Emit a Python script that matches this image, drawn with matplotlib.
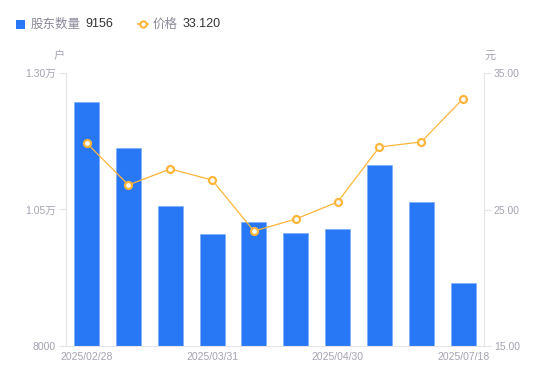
import matplotlib
matplotlib.use("Agg")
import matplotlib.pyplot as plt
from matplotlib.ticker import FixedLocator, FuncFormatter
from matplotlib.lines import Line2D
from matplotlib.patches import Rectangle

plt.rcParams['font.family'] = ['Liberation Sans', 'Noto Sans CJK SC', 'DejaVu Sans']

dates = ['2025/02/28', '', '', '2025/03/31', '', '', '2025/04/30', '', '', '2025/07/18']
holders = [12470, 11630, 10565, 10050, 10270, 10070, 10145, 11315, 10640, 9156]
prices = [29.87, 26.80, 27.97, 27.16, 23.42, 24.30, 25.55, 29.58, 29.95, 33.12]

left_ticks = [8000, 10500, 13000]
left_labels = ['8000', '1.05万', '1.30万']
right_ticks = [15, 25, 35]
right_labels = ['15.00', '25.00', '35.00']

BLUE = '#2878F5'
ORANGE = '#FFB53A'
AXIS = '#E3E3E8'
TICK = '#A3A3B3'

fig = plt.figure(figsize=(5.5, 3.81), dpi=100)
ax = fig.add_axes([65.7/550, 35/381, (484-65.7)/550, (346-73)/381])
ax2 = ax.twinx()

x = list(range(len(holders)))
ax.bar(x, holders, width=0.6, color=BLUE, edgecolor='#7FB0FA', linewidth=0.6, zorder=2)
ax.set_ylim(8000, 13000)
ax.set_xlim(-0.5, len(holders) - 0.5)

ax2.plot(x, prices, color=ORANGE, linewidth=0.9, marker='o', markersize=5,
         markerfacecolor='white', markeredgecolor=ORANGE, markeredgewidth=1.6, zorder=3)
ax2.set_ylim(15, 35)

for a in (ax, ax2):
    for s in a.spines.values():
        s.set_visible(False)

ax.spines['left'].set_visible(True)
ax.spines['left'].set_color(AXIS)
ax.spines['bottom'].set_visible(True)
ax.spines['bottom'].set_color(AXIS)
ax2.spines['right'].set_visible(True)
ax2.spines['right'].set_color(AXIS)

ax.set_yticks(left_ticks)
ax.set_yticklabels(left_labels)
ax2.set_yticks(right_ticks)
ax2.set_yticklabels(right_labels)
ax.tick_params(axis='y', colors=AXIS, labelcolor=TICK, labelsize=7.5, length=5, width=0.8, pad=2)
ax2.tick_params(axis='y', colors=AXIS, labelcolor=TICK, labelsize=7.5, length=5, width=0.8, pad=2)

shown = [i for i, d in enumerate(dates) if d]
ax.set_xticks(shown)
ax.set_xticklabels([dates[i] for i in shown])
ax.tick_params(axis='x', length=0, labelcolor=TICK, labelsize=7.5, pad=4)

ax.set_zorder(ax2.get_zorder() - 1)
ax.patch.set_visible(False)

fig.text(59/550, 1 - 56/381, '户', fontsize=8, color=TICK, ha='center', va='center',
         family=['Noto Sans CJK SC'])
fig.text(490/550, 1 - 56/381, '元', fontsize=8, color=TICK, ha='center', va='center',
         family=['Noto Sans CJK SC'])

# legend
fig.patches.append(Rectangle((16/550, 1 - 29/381), 9/550, 9/381, transform=fig.transFigure,
                             facecolor=BLUE, edgecolor='none'))
fig.text(31/550, 1 - 24/381, '股东数量', fontsize=9, color='#8a8a99', va='center',
         family=['Noto Sans CJK SC'])
fig.text(85/550, 1 - 24/381, '9156', fontsize=9, color='#333333', va='center')
fig.lines.append(Line2D([138/550, 148/550], [1 - 24/381, 1 - 24/381], transform=fig.transFigure,
                        color=ORANGE, linewidth=1.2, marker='o', markevery=[0], markersize=0))
fig.lines.append(Line2D([143/550], [1 - 24/381], transform=fig.transFigure,
                        color=ORANGE, marker='o', markersize=4.5, markerfacecolor='white',
                        markeredgecolor=ORANGE, markeredgewidth=1.5, linestyle='none'))
fig.text(153/550, 1 - 24/381, '价格', fontsize=9, color='#8a8a99', va='center',
         family=['Noto Sans CJK SC'])
fig.text(183/550, 1 - 24/381, '33.120', fontsize=9, color='#333333', va='center')

fig.savefig('out.png', dpi=100)
